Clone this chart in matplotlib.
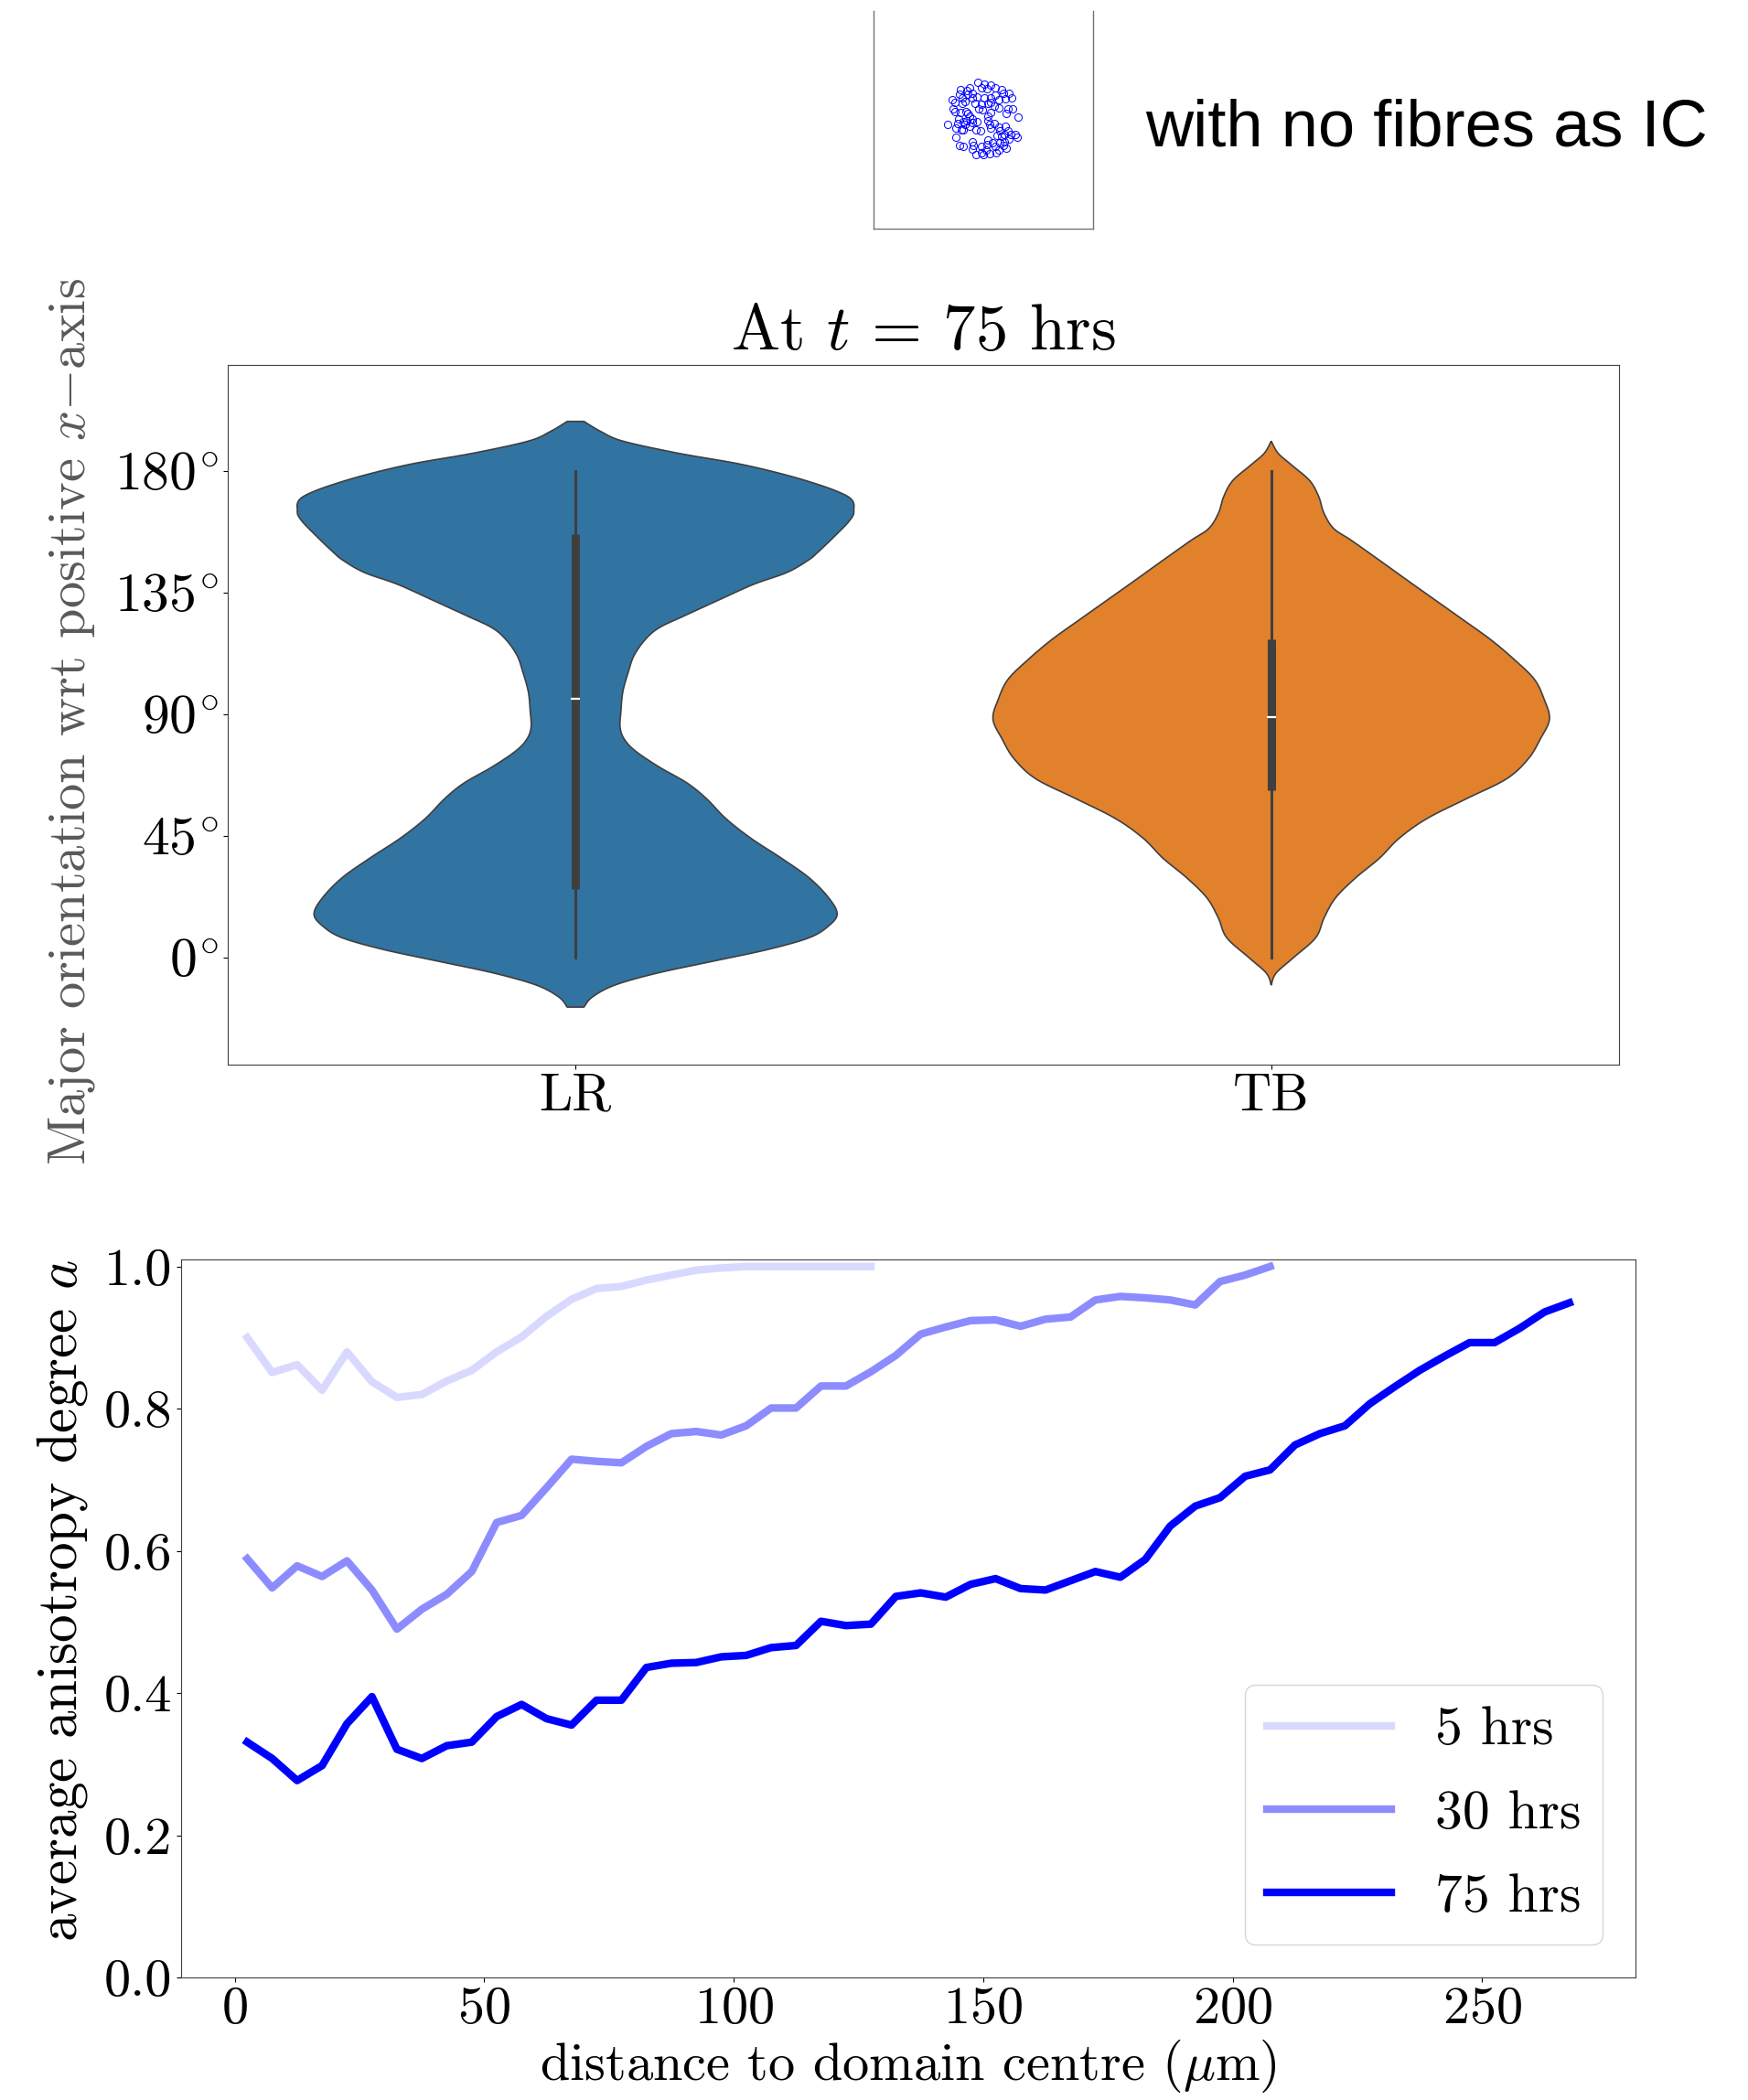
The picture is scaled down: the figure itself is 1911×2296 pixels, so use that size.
import numpy as np
import matplotlib
matplotlib.use("Agg")
import matplotlib.pyplot as plt

plt.rcParams["font.family"] = "serif"
plt.rcParams["font.serif"] = ["cmr10"]
plt.rcParams["mathtext.fontset"] = "cm"
plt.rcParams["axes.unicode_minus"] = False
plt.rcParams["axes.formatter.use_mathtext"] = True

# initial cell positions (domain units, y measured downwards)
cell_x = [148, 168, 190, 205, 225, 232, 160, 178, 120, 110, 90, 115, 130, 97, 130, 145, 168, 190,
          205, 215, 238, 258, 62, 72, 95, 105, 138, 160, 180, 188, 200, 215, 240, 246, 262, 280,
          65, 72, 90, 108, 115, 150, 162, 188, 180, 120, 85, 98, 112, 130, 128, 145, 105, 120,
          140, 100, 80, 48, 75, 92, 155, 180, 185, 200, 190, 215, 218, 238, 245, 235, 255, 270,
          275, 250, 225, 210, 75, 88, 98, 130, 132, 128, 140, 158, 175, 178, 180, 195, 205, 215,
          208, 230, 240, 235, 220, 165, 185, 160, 248, 88]
cell_y = [60, 65, 68, 78, 85, 95, 78, 80, 78, 88, 85, 100, 95, 110, 112, 108, 112, 110,
          102, 118, 115, 112, 118, 125, 128, 122, 130, 133, 130, 125, 137, 143, 162, 148, 146, 175,
          148, 155, 158, 155, 162, 148, 150, 160, 170, 170, 180, 190, 185, 180, 192, 188, 198, 205,
          215, 215, 195, 198, 210, 217, 220, 185, 198, 195, 210, 208, 220, 205, 218, 232, 230, 232,
          240, 245, 238, 235, 240, 268, 270, 255, 268, 280, 298, 290, 282, 265, 250, 258, 270, 282,
          292, 268, 275, 255, 258, 298, 295, 270, 95, 100]

# violin outlines: angle (deg) vs relative half-width, plus box statistics
lr_angle = [-18.4, -14.7, -10.3, -5.9, -1.5, 2.9, 7.3, 11.7, 16.1, 22.0, 29.4, 36.7, 44.1, 51.4,
            58.8, 64.6, 70.5, 76.4, 80.8, 85.2, 91.1, 98.4, 105.8, 111.7, 117.6, 122.0, 126.4,
            132.3, 138.1, 142.5, 147.0, 149.9, 155.8, 161.7, 165.3, 170.5, 176.4, 182.2, 186.6,
            191.1, 194.7, 198.4]
lr_width = [0.03, 0.06, 0.14, 0.29, 0.49, 0.69, 0.84, 0.91, 0.94, 0.91, 0.84, 0.74, 0.63, 0.54,
            0.47, 0.40, 0.30, 0.215, 0.175, 0.16, 0.163, 0.17, 0.19, 0.21, 0.25, 0.30, 0.39,
            0.515, 0.64, 0.76, 0.836, 0.87, 0.93, 0.985, 1.0, 0.98, 0.83, 0.61, 0.37,
            0.17, 0.09, 0.03]
tb_angle = [-10.3, -5.9, -0.1, 7.3, 14.6, 22.0, 29.4, 36.7, 44.1, 51.4, 58.8, 66.1, 73.5, 80.8,
            88.2, 95.5, 102.9, 110.2, 117.6, 125.0, 132.3, 139.6, 147.0, 154.3, 158.8, 164.6,
            170.5, 176.4, 182.2, 186.6, 191.1]
tb_width = [0.0, 0.017, 0.08, 0.16, 0.19, 0.231, 0.303, 0.389, 0.46, 0.56, 0.703, 0.846, 0.924,
            0.967, 1.0, 0.981, 0.946, 0.874, 0.789, 0.689, 0.589, 0.489, 0.389, 0.289, 0.224,
            0.189, 0.171, 0.139, 0.074, 0.025, 0.0]
groups = ["LR", "TB"]
group_colors = ["#3274a1", "#e1812c"]
q1 = [25.3, 62.0]
medians = [95.8, 88.9]
q3 = [156.5, 117.6]
whisk_lo = [0, 0]
whisk_hi = [180, 180]
angle_ticks = [0, 45, 90, 135, 180]

# anisotropy degree vs distance (5 um shells)
aniso_5 = [0.900, 0.851, 0.862, 0.826, 0.880, 0.838, 0.816, 0.820, 0.839, 0.854, 0.880, 0.901,
           0.930, 0.954, 0.969, 0.972, 0.981, 0.988, 0.995, 0.998, 1.0, 1.0, 1.0, 1.0, 1.0, 1.0]
aniso_30 = [0.589, 0.548, 0.579, 0.564, 0.586, 0.545, 0.490, 0.518, 0.539, 0.571, 0.640, 0.650,
            0.689, 0.729, 0.726, 0.724, 0.747, 0.765, 0.768, 0.763, 0.776, 0.801, 0.801, 0.832,
            0.832, 0.852, 0.875, 0.905, 0.915, 0.924, 0.925, 0.916, 0.926, 0.929, 0.953, 0.958,
            0.956, 0.953, 0.946, 0.979, 0.988, 1.0]
aniso_75 = [0.331, 0.308, 0.277, 0.298, 0.357, 0.395, 0.321, 0.308, 0.326, 0.331, 0.367, 0.384,
            0.364, 0.355, 0.390, 0.390, 0.436, 0.442, 0.443, 0.451, 0.453, 0.464, 0.467, 0.501,
            0.495, 0.497, 0.536, 0.541, 0.535, 0.553, 0.561, 0.547, 0.545, 0.558, 0.571, 0.563,
            0.588, 0.635, 0.663, 0.675, 0.705, 0.714, 0.749, 0.765, 0.776, 0.807, 0.831, 0.854,
            0.874, 0.893, 0.893, 0.913, 0.936, 0.949]
series = [("5 hrs", aniso_5, "#d9d9ff"), ("30 hrs", aniso_30, "#8c8cff"), ("75 hrs", aniso_75, "#0000ff")]
shell_centres = np.arange(2.5, 270, 5.0)


def smooth_outline(a, w, n=10):
    # Catmull-Rom through the outline points
    p = np.column_stack([a, w]).astype(float)
    p = np.vstack([p[0], p, p[-1]])
    t = np.linspace(0, 1, n, endpoint=False)[:, None]
    segs = []
    for i in range(1, len(p) - 2):
        p0, p1, p2, p3 = p[i - 1], p[i], p[i + 1], p[i + 2]
        segs.append(0.5 * (2 * p1 + (-p0 + p2) * t + (2 * p0 - 5 * p1 + 4 * p2 - p3) * t ** 2
                           + (-p0 + 3 * p1 - 3 * p2 + p3) * t ** 3))
    segs.append(p[-2][None])
    s = np.vstack(segs)
    return s[:, 0], np.clip(s[:, 1], 0, None)


fig = plt.figure(figsize=(19.11, 22.96), dpi=100)

# initial condition snapshot
ax0 = fig.add_axes([955 / 1911, 1 - 250 / 2296, 240 / 1911, 238 / 2296])
ax0.plot(cell_x, cell_y, "o", mfc="none", mec="blue", ms=5.8, mew=0.7)
ax0.set_xlim(-195, 525)
ax0.set_ylim(540, -174)
ax0.set_xticks([])
ax0.set_yticks([])
ax0.spines["top"].set_visible(False)
for s in ["left", "right", "bottom"]:
    ax0.spines[s].set_color("0.45")
    ax0.spines[s].set_linewidth(1.0)
fig.text(1252 / 1911, 1 - 160 / 2296, "with no fibres as IC", family="Liberation Sans",
         fontsize=52, ha="left", va="baseline")

# violin plot
ax1 = fig.add_axes([249 / 1911, 1 - 1164 / 2296, 1521 / 1911, 765 / 2296])
outlines = [(lr_angle, lr_width), (tb_angle, tb_width)]
for i, (ang, wid) in enumerate(outlines):
    a, w = smooth_outline(ang, wid)
    half = 0.4 * w
    xs = np.concatenate([i - half, (i + half)[::-1]])
    ys = np.concatenate([a, a[::-1]])
    ax1.fill(xs, ys, facecolor=group_colors[i], edgecolor="#3f3f3f", lw=1.2, zorder=2)
    ax1.plot([i, i], [whisk_lo[i], whisk_hi[i]], color="#3f3f3f", lw=2.2, zorder=3)
    ax1.plot([i, i], [q1[i], q3[i]], color="#3f3f3f", lw=6.5, solid_capstyle="butt", zorder=3)
    ax1.plot([i], [medians[i]], marker="_", color="white", ms=6.5, mew=1.6, zorder=4)
ax1.set_xlim(-0.5, 1.5)
ax1.set_ylim(-39.7, 219.3)
ax1.set_xticks([0, 1])
ax1.set_xticklabels(groups)
ax1.set_yticks(angle_ticks)
ax1.set_yticklabels([r"$%d^{\!\circ}$" % a for a in angle_ticks])
ax1.tick_params(labelsize=42)
ax1.tick_params(axis="y", labelsize=43)
ax1.set_title(r"At $t$ = 75 hrs", fontsize=51, pad=12)
ax1.set_ylabel(r"Major orientation wrt positive $x{-}$axis", fontsize=42, color="0.35")
ax1.yaxis.set_label_coords(-0.094, 0.49)
for s in ax1.spines.values():
    s.set_color("0.25")

# anisotropy profiles
ax2 = fig.add_axes([198 / 1911, 1 - 2162 / 2296, 1590 / 1911, 785 / 2296])
for label, vals, col in series:
    ax2.plot(shell_centres[:len(vals)], vals, color=col, lw=6, label=label)
ax2.set_ylim(0, 1.01)
ax2.set_yticks([0, 0.2, 0.4, 0.6, 0.8, 1.0])
ax2.set_yticklabels(["0.0", "0.2", "0.4", "0.6", "0.8", "1.0"])
ax2.tick_params(labelsize=42)
ax2.set_xlabel(r"distance to domain centre ($\mu$m)", fontsize=42)
ax2.set_ylabel(r"average anisotropy degree $a$", fontsize=44)
ax2.yaxis.set_label_coords(-0.063, 0.525)
ax2.legend(loc="lower right", fontsize=43, handlelength=2.28, labelspacing=0.63,
           borderaxespad=0.6)
for s in ax2.spines.values():
    s.set_color("0.25")

fig.savefig("out.png", dpi=100)
